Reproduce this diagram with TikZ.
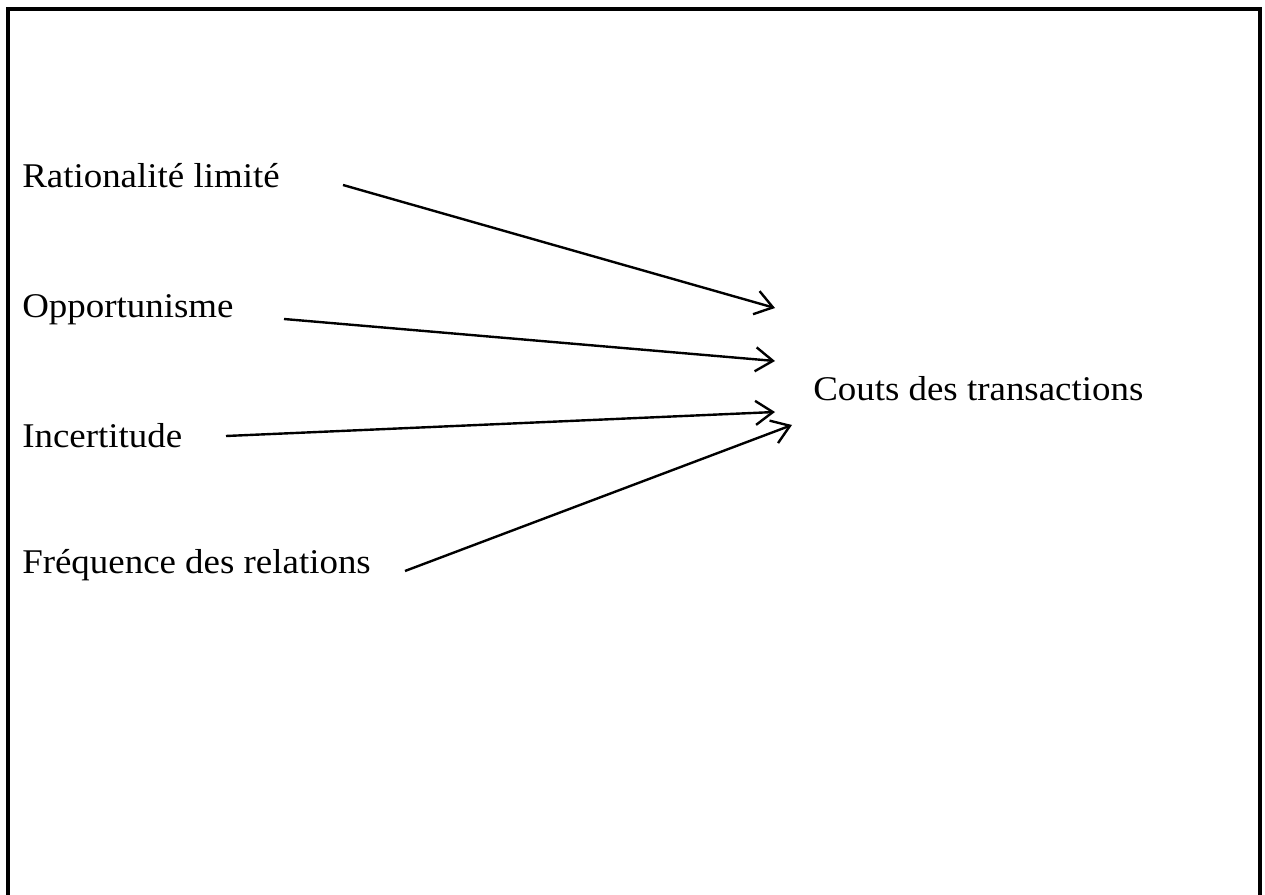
\documentclass[tikz,border=0pt]{standalone}
\usepackage{fontspec}
\setmainfont{Liberation Serif}[FakeStretch=1.065]
\usetikzlibrary{arrows.meta}
\tikzset{
  lbl/.style={anchor=base west, inner sep=0pt, font=\fontsize{26}{30}\selectfont},
  link/.style={line width=1.8pt, -{Straight Barb[length=13pt, width=18pt, line width=1.8pt]}},
  frame/.style={line width=2.4pt}
}
\begin{document}
\begin{tikzpicture}[x=0.75pt, y=-0.75pt]
  \useasboundingbox (0,0) rectangle (1265,895);
  \clip (0,0) rectangle (1265,895);
  % outer frame (runs past the lower edge)
  \draw[frame] (8,9) rectangle (1260,910);

  % factor labels
  \node[lbl] (rat) at (22,188) {Rationalité limité};
  \node[lbl] (opp) at (22,318) {Opportunisme};
  \node[lbl] (inc) at (22,447) {Incertitude};
  \node[lbl] (fre) at (22,573) {Fréquence des relations};
  % outcome label
  \node[lbl] (cout) at (813,400) {Couts des transactions};

  % arrow start and tip points
  \coordinate (ratS) at (343,185);
  \coordinate (oppS) at (284,319);
  \coordinate (incS) at (226,436);
  \coordinate (freS) at (405,571);
  \coordinate (t1) at (775,308);
  \coordinate (t2) at (775,361);
  \coordinate (t3) at (775,412);
  \coordinate (t4) at (792,425);

  \draw[link] (ratS) -- (t1);
  \draw[link] (oppS) -- (t2);
  \draw[link] (incS) -- (t3);
  \draw[link] (freS) -- (t4);
\end{tikzpicture}
\end{document}
